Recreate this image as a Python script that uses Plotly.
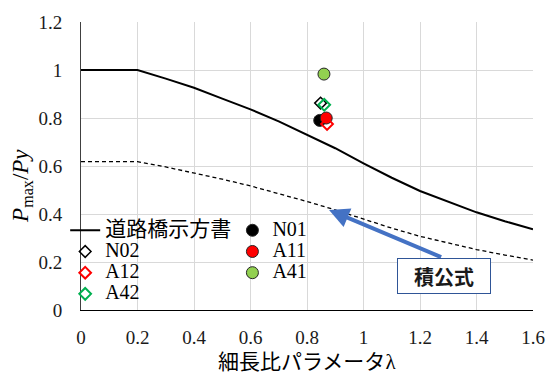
import plotly.graph_objects as go

# Slenderness parameter and strength ratio curves
lam = [0.0, 0.2, 0.3, 0.4, 0.5, 0.6, 0.7, 0.8, 0.9, 1.0, 1.1, 1.2, 1.3, 1.4, 1.5, 1.6]
spec_curve = [1.0, 1.0, 0.964, 0.926, 0.881, 0.836, 0.786, 0.731, 0.674, 0.611,
              0.551, 0.496, 0.450, 0.407, 0.370, 0.336]
product_curve = [0.618, 0.618, 0.596, 0.572, 0.545, 0.517, 0.486, 0.452, 0.417, 0.378,
                 0.341, 0.307, 0.278, 0.252, 0.229, 0.208]

# Test specimens: (lambda, Pmax/Py)
N01 = (0.845, 0.790)
N02 = (0.848, 0.862)
A11 = (0.868, 0.800)
A12 = (0.871, 0.775)
A41 = (0.860, 0.983)
A42 = (0.861, 0.855)

x_ticks = [0, 0.2, 0.4, 0.6, 0.8, 1.0, 1.2, 1.4, 1.6]
y_ticks = [0, 0.2, 0.4, 0.6, 0.8, 1.0, 1.2]

SERIF = "Liberation Serif"
CJK = "Noto Sans CJK JP"


def big(text, size=20, family=None):
    style = f"font-size:{size}px"
    if family:
        style += f";font-family:{family}"
    return f'<span style="{style}">{text}</span>'


fig = go.Figure()

fig.add_trace(go.Scatter(x=lam, y=spec_curve, mode="lines",
                         line=dict(color="black", width=2),
                         name=big("道路橋示方書", 21, CJK), legend="legend"))
fig.add_trace(go.Scatter(x=lam, y=product_curve, mode="lines",
                         line=dict(color="black", width=1.3, dash="4px,3px"),
                         showlegend=False))

circle_line = dict(color="#262626", width=1)
fig.add_trace(go.Scatter(x=[N01[0]], y=[N01[1]], mode="markers", name=big("N01"),
                         marker=dict(symbol="circle", size=12, color="black", line=circle_line),
                         legend="legend2"))
fig.add_trace(go.Scatter(x=[N02[0]], y=[N02[1]], mode="markers", name=big("N02"),
                         marker=dict(symbol="diamond-open", size=9, color="black",
                                     line=dict(color="black", width=1.5)),
                         legend="legend"))
fig.add_trace(go.Scatter(x=[A11[0]], y=[A11[1]], mode="markers", name=big("A11"),
                         marker=dict(symbol="circle", size=12, color="#FF0000", line=circle_line),
                         legend="legend2"))
fig.add_trace(go.Scatter(x=[A12[0]], y=[A12[1]], mode="markers", name=big("A12"),
                         marker=dict(symbol="diamond-open", size=9, color="#FF0000",
                                     line=dict(color="#FF0000", width=2)),
                         legend="legend"))
fig.add_trace(go.Scatter(x=[A41[0]], y=[A41[1]], mode="markers", name=big("A41"),
                         marker=dict(symbol="circle", size=12, color="#92D050", line=circle_line),
                         legend="legend2"))
fig.add_trace(go.Scatter(x=[A42[0]], y=[A42[1]], mode="markers", name=big("A42"),
                         marker=dict(symbol="diamond-open", size=9, color="#00B050",
                                     line=dict(color="#00B050", width=2)),
                         legend="legend"))

legend_common = dict(font=dict(family=SERIF, size=14, color="black"),
                     bgcolor="rgba(0,0,0,0)", borderwidth=0,
                     orientation="v", xanchor="left", yanchor="top",
                     itemwidth=30, tracegroupgap=0)

fig.update_layout(
    width=558, height=374,
    margin=dict(l=81, r=25, t=20, b=64),
    paper_bgcolor="white", plot_bgcolor="white",
    legend=dict(x=-0.035, y=0.331, **legend_common),
    legend2=dict(x=0.335, y=0.331, **legend_common),
    xaxis=dict(range=[0, 1.6], tickvals=x_ticks, showgrid=True, gridcolor="#D9D9D9",
               gridwidth=1, zeroline=False, showline=True, linecolor="black", linewidth=1,
               ticks="", ticklabelstandoff=10,
               tickfont=dict(family=SERIF, size=19, color="#1a1a1a")),
    yaxis=dict(range=[0, 1.2], tickvals=y_ticks, showgrid=True, gridcolor="#D9D9D9",
               gridwidth=1, zeroline=False, showline=True, linecolor="#404040", linewidth=1,
               ticks="", ticklabelstandoff=14,
               tickfont=dict(family=SERIF, size=19, color="#1a1a1a")),
    showlegend=True,
)

# Axis titles
fig.add_annotation(text='細長比パラメータ<span style="font-family:Liberation Serif">λ</span>',
                   xref="paper", yref="paper", x=0.5, y=-0.172,
                   xanchor="center", yanchor="middle", showarrow=False,
                   font=dict(family=CJK, size=21, color="black"))
fig.add_annotation(text="<i>P</i><sub>max</sub>/<i>Py</i>",
                   xref="paper", yref="paper", x=-0.1305, y=0.431,
                   xanchor="center", yanchor="middle", showarrow=False, textangle=-90,
                   font=dict(family=SERIF, size=23, color="black"))

# Arrow pointing at the product-formula curve, with its label box
fig.add_annotation(x=0.878, y=0.417, ax=1.280, ay=0.218, xref="x", yref="y",
                   axref="x", ayref="y", text="", showarrow=True,
                   arrowhead=2, arrowsize=1.0, arrowwidth=4, arrowcolor="#4472C4", standoff=0)
fig.add_annotation(x=1.285, y=0.1436, xref="x", yref="y", text="<b>積公式</b>",
                   showarrow=False, width=92, height=34, bgcolor="white",
                   bordercolor="#2F5597", borderwidth=1, borderpad=0,
                   font=dict(family=CJK, size=20, color="#1a1a1a"))

fig.write_html("out.html")
